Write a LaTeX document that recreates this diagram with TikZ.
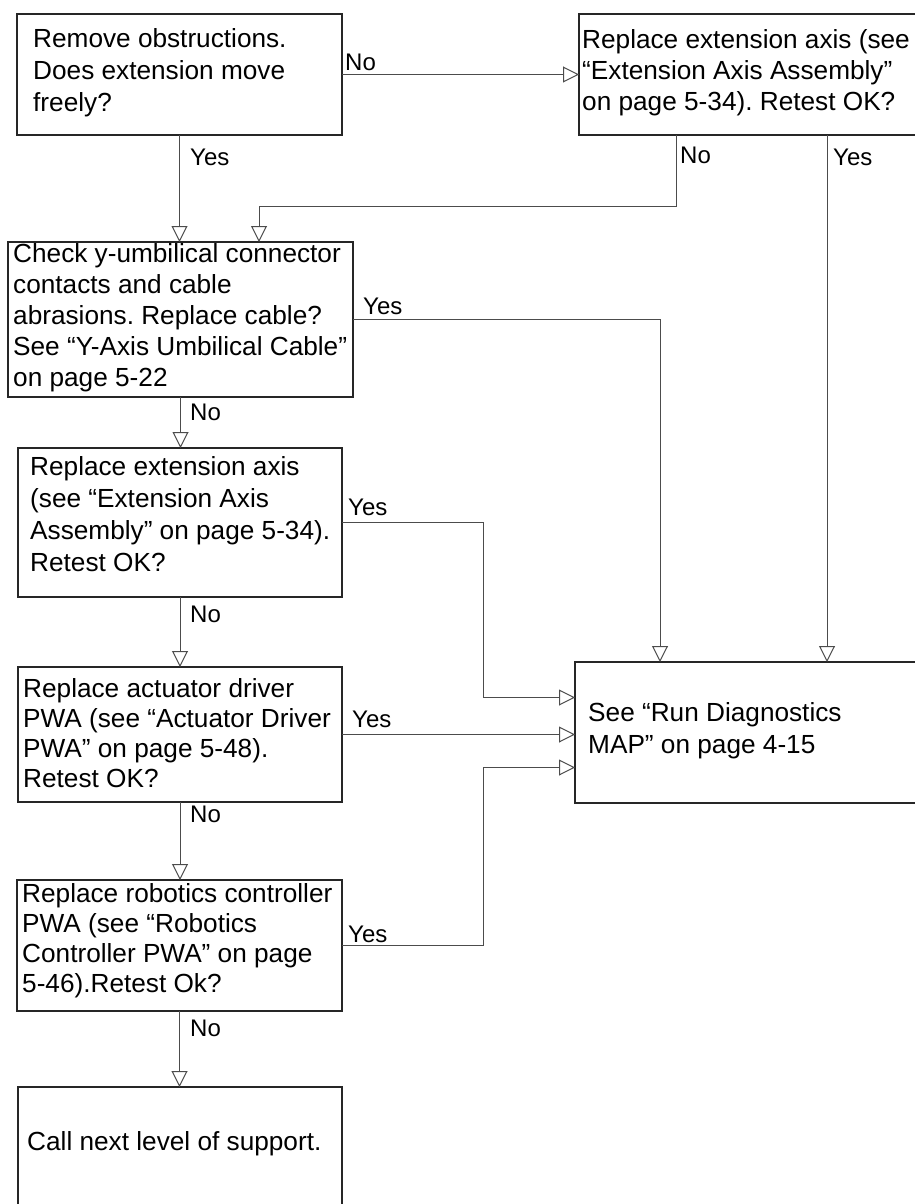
\documentclass[tikz,border=0pt]{standalone}
\usepackage{fontspec}
\setmainfont{Liberation Sans}
\usetikzlibrary{arrows.meta,calc}
\frenchspacing
\begin{document}
\begin{tikzpicture}[x=1pt,y=-1pt,
  box/.style={draw=black!85, line width=1.1pt, rectangle, inner sep=0pt, outer sep=0pt, anchor=north west},
  txt/.style={anchor=west, align=left, inner sep=0pt, font=\fontsize{26.2}{31}\selectfont},
  txtwide/.style={txt, font=\fontsize{26.2}{32}\selectfont},
  txttight/.style={txt, font=\fontsize{26.2}{30}\selectfont},
  lbl/.style={anchor=base west, inner sep=0pt, font=\fontsize{24}{28}\selectfont},
  conn/.style={draw=black!70, line width=1pt, -{Triangle[open,length=16pt,width=16pt]}},
]
\useasboundingbox (0,0) rectangle (915,1204);

% process boxes
\node[box, minimum width=325pt, minimum height=121pt] (A) at (17,14) {};
\node[box, minimum width=351pt, minimum height=121pt] (B) at (579,14) {};
\node[box, minimum width=345pt, minimum height=155pt] (C) at (8,242) {};
\node[box, minimum width=324pt, minimum height=149pt] (D) at (18,448) {};
\node[box, minimum width=324pt, minimum height=135pt] (E) at (18,667) {};
\node[box, minimum width=355pt, minimum height=141pt] (F) at (575,662) {};
\node[box, minimum width=325pt, minimum height=131pt] (G) at (17,880) {};
\node[box, minimum width=324pt, minimum height=125pt] (H) at (18,1087) {};

% box texts
\node[txtwide] (At) at ($(A.west)+(16,-2)$) {Remove obstructions.\\Does extension move\\freely?};
\node[txt] (Bt) at ($(B.west)+(3,-2)$) {Replace extension axis (see\\“Extension Axis Assembly”\\on page 5-34). Retest OK?};
\node[txt] (Ct) at ($(C.west)+(5,-2)$) {Check y-umbilical connector\\contacts and cable\\abrasions. Replace cable?\\See “Y-Axis Umbilical Cable”\\on page 5-22};
\node[txtwide] (Dt) at ($(D.west)+(12,-8)$) {Replace extension axis\\(see “Extension Axis\\Assembly” on page 5-34).\\Retest OK?};
\node[txttight] (Et) at ($(E.west)+(5,-1.5)$) {Replace actuator driver\\PWA (see “Actuator Driver\\PWA” on page 5-48).\\Retest OK?};
\node[txtwide] (Ft) at ($(F.west)+(13,-1.5)$) {See “Run Diagnostics\\MAP” on page 4-15};
\node[txttight] (Gt) at ($(G.west)+(5,-5)$) {Replace robotics controller\\PWA (see “Robotics\\Controller PWA” on page\\5-46).Retest Ok?};
\node[txt] (Ht) at ($(H.north west)+(9,57)$) {Call next level of support.};

% connectors
\draw[conn] (A.east) -- (B.west);
\draw[conn] (A.south) -- (A.south |- C.north);
\draw[conn] ($(B.south west)+(97,0)$) -- ++(0,71) -| ($(C.north west)+(251,0)$);
\draw[conn] ($(B.south west)+(248,0)$) -- ($(F.north west)+(252,0)$);
\draw[conn] (C.east) -| ($(F.north west)+(85,0)$);
\draw[conn] (C.south) -- (C.south |- D.north);
\draw[conn] (D.east) -- ++(141,0) |- ($(F.west)+(0,-35)$);
\draw[conn] (D.south) -- (D.south |- E.north);
\draw[conn] (E.east) -- (E.east -| F.west);
\draw[conn] (E.south) -- (E.south |- G.north);
\draw[conn] (G.east) -- ++(141,0) |- ($(F.west)+(0,35)$);
\draw[conn] (G.south) -- (G.south |- H.north);

% connector labels
\node[lbl] (nAB) at (345,71) {No};
\node[lbl] (yAC) at (190,165) {Yes};
\node[lbl] (nBC) at (680,163) {No};
\node[lbl] (yBF) at (833,165) {Yes};
\node[lbl] (yCF) at (363,314) {Yes};
\node[lbl] (nCD) at (190,420) {No};
\node[lbl] (yDF) at (348,515) {Yes};
\node[lbl] (nDE) at (190,622) {No};
\node[lbl] (yEF) at (352,727) {Yes};
\node[lbl] (nEG) at (190,822) {No};
\node[lbl] (yGF) at (348,942) {Yes};
\node[lbl] (nGH) at (190,1036) {No};
\end{tikzpicture}
\end{document}
